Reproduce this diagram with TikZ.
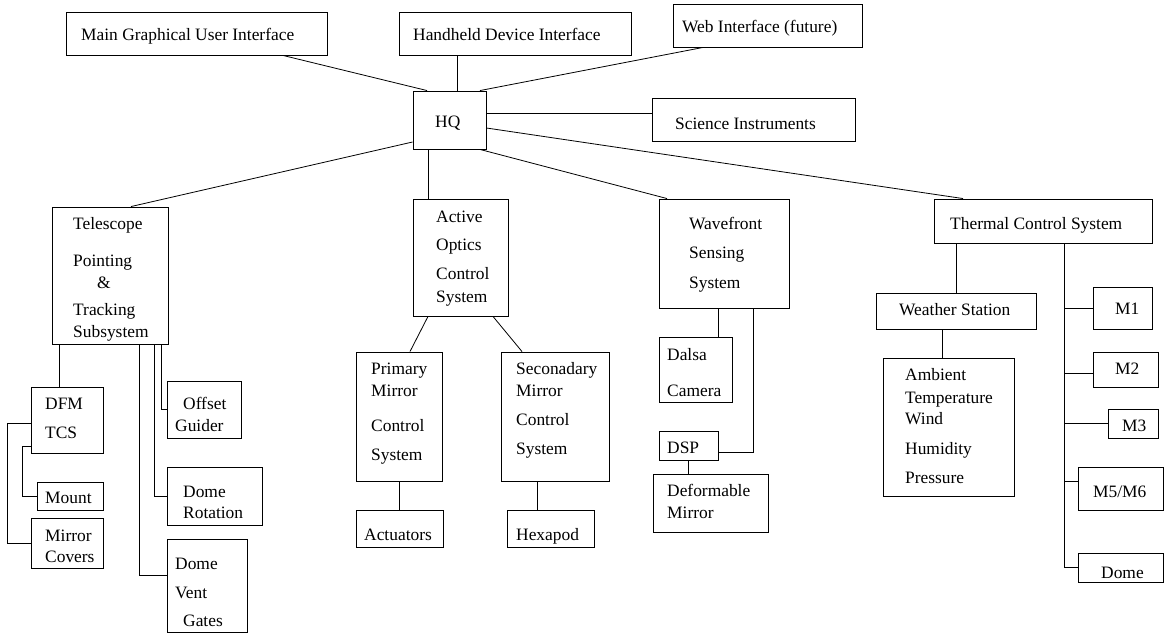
\documentclass[tikz,border=0pt]{standalone}
\usepackage{fontspec}
\setmainfont{Liberation Serif}
\usetikzlibrary{fit}
\tikzset{
  box/.style={draw, line width=0.9pt, inner sep=0pt},
  txt/.style={anchor=base west, inner sep=0pt, font=\fontsize{17.4}{20}\selectfont},
  link/.style={line width=0.8pt},
}
\begin{document}
\begin{tikzpicture}[x=1pt,y=-1pt]
\useasboundingbox (0,0) rectangle (1165,634);
% boxes
\node[box, fit={(66,12)(327,55)}] (gui) {};
\node[box, fit={(399,12)(631,55)}] (hand) {};
\node[box, fit={(673,4)(862,47)}] (web) {};
\node[box, fit={(413,91)(486,149)}] (hq) {};
\node[box, fit={(652,98)(855,141)}] (sci) {};
\node[box, fit={(52,207)(168,344)}] (tele) {};
\node[box, fit={(413,199)(508,316)}] (aocs) {};
\node[box, fit={(659,199)(789,308)}] (wfs) {};
\node[box, fit={(934,199)(1152,243)}] (tcs) {};
\node[box, fit={(31,387)(103,453)}] (dfm) {};
\node[box, fit={(37,482)(103,510)}] (mount) {};
\node[box, fit={(31,518)(103,568)}] (mc) {};
\node[box, fit={(167,381)(241,438)}] (og) {};
\node[box, fit={(167,467)(262,525)}] (dr) {};
\node[box, fit={(167,539)(247,632)}] (dvg) {};
\node[box, fit={(356,352)(442,481)}] (pm) {};
\node[box, fit={(501,352)(609,481)}] (sm) {};
\node[box, fit={(356,510)(443,547)}] (act) {};
\node[box, fit={(507,510)(594,547)}] (hex) {};
\node[box, fit={(659,337)(732,402)}] (dalsa) {};
\node[box, fit={(659,431)(718,460)}] (dsp) {};
\node[box, fit={(653,474)(768,532)}] (dm) {};
\node[box, fit={(876,293)(1036,329)}] (ws) {};
\node[box, fit={(883,358)(1014,496)}] (amb) {};
\node[box, fit={(1093,287)(1152,329)}] (m1) {};
\node[box, fit={(1093,352)(1158,387)}] (m2) {};
\node[box, fit={(1108,409)(1158,438)}] (m3) {};
\node[box, fit={(1078,467)(1163,510)}] (m56) {};
\node[box, fit={(1078,553)(1163,582)}] (dome) {};
% texts
\node[txt] (t-gui) at (81,41) {Main Graphical User Interface};
\node[txt] (t-hand) at (413,41) {Handheld Device Interface};
\node[txt] (t-web) at (682,33) {Web Interface (future)};
\node[txt] (t-hq) at (435,128) {HQ};
\node[txt] (t-sci) at (675,129) {Science Instruments};
\node[txt] (t-tele1) at (73,229) {Telescope};
\node[txt] (t-tele2) at (73,266) {Pointing};
\node[txt] (t-tele3) at (97,288) {\&};
\node[txt] (t-tele4) at (73,315) {Tracking};
\node[txt] (t-tele5) at (73,337) {Subsystem};
\node[txt] (t-aocs1) at (436,222) {Active};
\node[txt] (t-aocs2) at (436,250) {Optics};
\node[txt] (t-aocs3) at (436,279) {Control};
\node[txt] (t-aocs4) at (436,302) {System};
\node[txt] (t-wfs1) at (689,229) {Wavefront};
\node[txt] (t-wfs2) at (689,258) {Sensing};
\node[txt] (t-wfs3) at (689,288) {System};
\node[txt] (t-tcs) at (950,229) {Thermal Control System};
\node[txt] (t-dfm1) at (45,409) {DFM};
\node[txt] (t-dfm2) at (45,438) {TCS};
\node[txt] (t-mount) at (45,503) {Mount};
\node[txt] (t-mc1) at (45,541) {Mirror};
\node[txt] (t-mc2) at (45,562) {Covers};
\node[txt] (t-og1) at (183,409) {Offset};
\node[txt] (t-og2) at (175,431) {Guider};
\node[txt] (t-dr1) at (183,497) {Dome};
\node[txt] (t-dr2) at (183,518) {Rotation};
\node[txt] (t-dvg1) at (175,569) {Dome};
\node[txt] (t-dvg2) at (175,598) {Vent};
\node[txt] (t-dvg3) at (183,626) {Gates};
\node[txt] (t-pm1) at (371,374) {Primary};
\node[txt] (t-pm2) at (371,396) {Mirror};
\node[txt] (t-pm3) at (371,431) {Control};
\node[txt] (t-pm4) at (371,460) {System};
\node[txt] (t-sm1) at (516,374) {Seconadary};
\node[txt] (t-sm2) at (516,396) {Mirror};
\node[txt] (t-sm3) at (516,425) {Control};
\node[txt] (t-sm4) at (516,454) {System};
\node[txt] (t-act) at (364,540) {Actuators};
\node[txt] (t-hex) at (516,540) {Hexapod};
\node[txt] (t-dalsa1) at (667,360) {Dalsa};
\node[txt] (t-dalsa2) at (667,396) {Camera};
\node[txt] (t-dsp) at (667,453) {DSP};
\node[txt] (t-dm1) at (667,496) {Deformable};
\node[txt] (t-dm2) at (667,518) {Mirror};
\node[txt] (t-ws) at (899,315) {Weather Station};
\node[txt] (t-amb1) at (905,380) {Ambient};
\node[txt] (t-amb2) at (905,403) {Temperature};
\node[txt] (t-amb3) at (905,424) {Wind};
\node[txt] (t-amb4) at (905,454) {Humidity};
\node[txt] (t-amb5) at (905,483) {Pressure};
\node[txt] (t-m1) at (1115,314) {M1};
\node[txt] (t-m2) at (1115,374) {M2};
\node[txt] (t-m3) at (1122,431) {M3};
\node[txt] (t-m56) at (1093,497) {M5/M6};
\node[txt] (t-dome) at (1101,578) {Dome};
% connectors from HQ
\draw[link] (gui.south -| 283,0) -- (hq.north -| 427,0);
\draw[link] (hand.south -| 457,0) -- (hq.north -| 457,0);
\draw[link] (web.south -| 703,0) -- (hq.north -| 480,0);
\draw[link] (hq.east |- 0,113) -- (sci.west |- 0,113);
\draw[link] (hq.east |- 0,128) -- (tcs.north -| 963,0);
\draw[link] (hq.west |- 0,142) -- (tele.north -| 131,0);
\draw[link] (hq.south -| 428,0) -- (aocs.north -| 428,0);
\draw[link] (hq.south -| 480,0) -- (wfs.north -| 667,0);
% telescope subtree
\draw[link] (tele.south -| 59,0) -- (dfm.north -| 59,0);
\draw[link] (dfm.west |- 0,446) -- ++(-8,0) |- (mount.west);
\draw[link] (dfm.west |- 0,423) -- ++(-23,0) |- (mc.west);
\draw[link] (tele.south -| 161,0) |- (og.west);
\draw[link] (tele.south -| 154,0) |- (dr.west);
\draw[link] (tele.south -| 139,0) |- (dvg.west |- 0,575);
% active optics subtree
\draw[link] (aocs.south -| 428,0) -- (pm.north -| 410,0);
\draw[link] (aocs.south -| 493,0) -- (sm.north -| 522,0);
\draw[link] (pm.south -| 399,0) -- (act.north -| 399,0);
\draw[link] (sm.south -| 537,0) -- (hex.north -| 537,0);
% wavefront subtree
\draw[link] (wfs.south -| 718,0) -- (dalsa.north -| 718,0);
\draw[link] (wfs.south -| 753,0) |- (dsp.east |- 0,452);
\draw[link] (dsp.south -| 688,0) -- (dm.north -| 688,0);
% thermal subtree
\draw[link] (tcs.south -| 956,0) -- (ws.north -| 956,0);
\draw[link] (ws.south -| 942,0) -- (amb.north -| 942,0);
\draw[link] (tcs.south -| 1064,0) |- (dome.west);
\draw[link] (m1.west) -- (m1.west -| 1064,0);
\draw[link] (m2.west |- 0,373) -- (1064,373);
\draw[link] (m3.west |- 0,423) -- (1064,423);
\draw[link] (m56.west |- 0,481) -- (1064,481);
\end{tikzpicture}
\end{document}
